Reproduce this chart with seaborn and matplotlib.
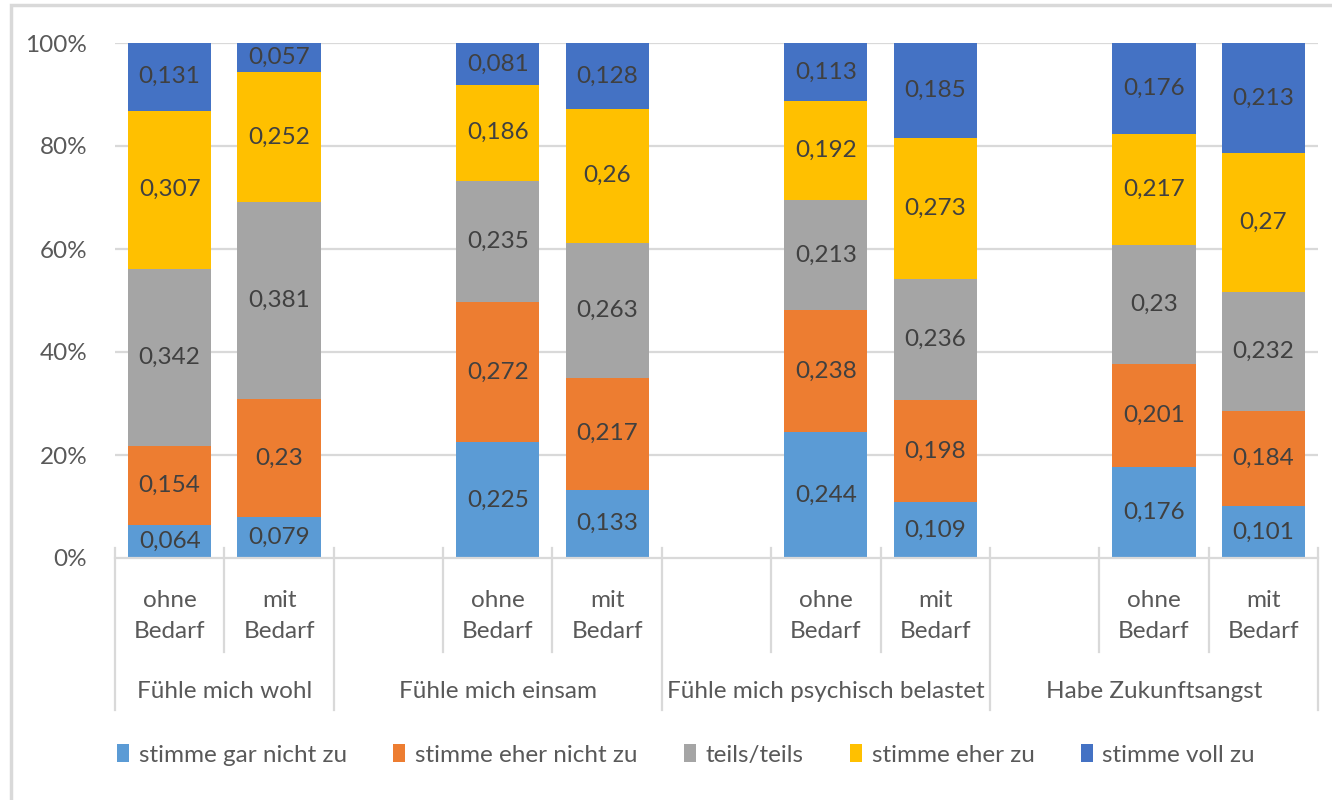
import pandas as pd
import numpy as np
import matplotlib
matplotlib.use('Agg')
import matplotlib.pyplot as plt
import matplotlib.transforms as mtransforms
from matplotlib.patches import Patch, Rectangle
import seaborn as sns

# Chart values
groups = ['Fühle mich wohl', 'Fühle mich einsam', 'Fühle mich psychisch belastet', 'Habe Zukunftsangst']
subgroups = ['ohne\nBedarf', 'mit\nBedarf']
levels = ['stimme gar nicht zu', 'stimme eher nicht zu', 'teils/teils', 'stimme eher zu', 'stimme voll zu']

gar_nicht = [0.064, 0.079, 0.225, 0.133, 0.244, 0.109, 0.176, 0.101]
eher_nicht = [0.154, 0.23, 0.272, 0.217, 0.238, 0.198, 0.201, 0.184]
teils = [0.342, 0.381, 0.235, 0.263, 0.213, 0.236, 0.23, 0.232]
eher_zu = [0.307, 0.252, 0.186, 0.26, 0.192, 0.273, 0.217, 0.27]
voll_zu = [0.131, 0.057, 0.081, 0.128, 0.113, 0.185, 0.176, 0.213]

colors = ['#5B9BD5', '#ED7D31', '#A5A5A5', '#FFC000', '#4472C4']

# slot layout: each group after the first has an empty slot in front
slot_order = ['wohl_ohne', 'wohl_mit', 'gap1', 'einsam_ohne', 'einsam_mit', 'gap2',
              'psych_ohne', 'psych_mit', 'gap3', 'zuk_ohne', 'zuk_mit']
bar_slots = [s for s in slot_order if not s.startswith('gap')]

df = pd.DataFrame({'slot': bar_slots,
                   levels[0]: gar_nicht, levels[1]: eher_nicht, levels[2]: teils,
                   levels[3]: eher_zu, levels[4]: voll_zu})
totals = df[levels].sum(axis=1)
pct = df[levels].div(totals, axis=0) * 100
cum = pct.cumsum(axis=1)
df_cum = pd.concat([df[['slot']], cum], axis=1)

FONT = 'Lato'
FS = 17.5
plt.rcParams['font.family'] = FONT
text_col = '#595959'
label_col = '#404040'
grid_col = '#D9D9D9'

fig = plt.figure(figsize=(13.32, 8), dpi=100)
ax = fig.add_axes([115 / 1332, 1 - 558 / 800, (1318 - 115) / 1332, (558 - 43) / 800])

# draw from the top level down so each layer covers the one above
for i in range(len(levels) - 1, -1, -1):
    sns.barplot(data=df_cum, x='slot', y=levels[i], order=slot_order, color=colors[i],
                saturation=1, width=0.76, ax=ax, zorder=2)

# data labels
pos = {s: slot_order.index(s) for s in bar_slots}
for r in range(len(df)):
    x = pos[df['slot'][r]]
    bottom = 0
    for lv in levels:
        h = pct[lv][r]
        txt = f"{df[lv][r]:g}".replace('.', ',')
        ax.text(x, bottom + h / 2, txt, ha='center', va='center', fontsize=FS,
                color=label_col, zorder=3)
        bottom += h

ax.set_xlim(-0.5, 10.5)
ax.set_ylim(0, 100)
ax.set_yticks([0, 20, 40, 60, 80, 100])
ax.set_yticklabels(['0%', '20%', '40%', '60%', '80%', '100%'], fontsize=FS, color=text_col)
ax.tick_params(axis='y', length=0, pad=20)
ax.set_xticks([])
ax.set_xlabel('')
ax.set_ylabel('')
for y in [20, 40, 60, 80, 100]:
    ax.axhline(y, color=grid_col, lw=1.6, zorder=0)
for sp in ['top', 'right', 'left']:
    ax.spines[sp].set_visible(False)
ax.spines['bottom'].set_color(grid_col)
ax.spines['bottom'].set_linewidth(1.6)

# multi-level category axis
trans = mtransforms.blended_transform_factory(ax.transData, fig.transFigure)
def fy(p):
    return 1 - p / 800

long_lines = [-0.5, 1.5, 4.5, 7.5, 10.5]
short_lines = [0.5, 2.5, 3.5, 5.5, 6.5, 8.5, 9.5]
for xl in long_lines:
    ax.plot([xl, xl], [fy(548), fy(710)], transform=trans, color=grid_col, lw=1.6, clip_on=False)
for xl in short_lines:
    ax.plot([xl, xl], [fy(548), fy(652)], transform=trans, color=grid_col, lw=1.6, clip_on=False)

for s in bar_slots:
    sub = subgroups[0] if s.endswith('ohne') else subgroups[1]
    ax.text(pos[s], fy(616), sub, transform=trans, ha='center', va='center',
            fontsize=FS, color=text_col, linespacing=1.55)

group_centers = [0.5, 3, 6, 9]
for g, xc in zip(groups, group_centers):
    ax.text(xc, fy(691), g, transform=trans, ha='center', va='center',
            fontsize=FS, color=text_col)

# legend
handles = [Patch(facecolor=c, edgecolor='none', label=l) for c, l in zip(colors, levels)]
fig.legend(handles=handles, loc='center', bbox_to_anchor=(0.515, 1 - 755 / 800), ncol=5,
           frameon=False, fontsize=FS, labelcolor=text_col, handlelength=0.5,
           handleheight=0.75, handletextpad=0.4, columnspacing=1.9)

# chart frame
fig.patches.append(Rectangle((11 / 1332, -0.1), 1.2, 1.1 - 5 / 800, transform=fig.transFigure,
                             fill=False, edgecolor=grid_col, lw=2.5, zorder=0))

fig.savefig('out.png', dpi=100)
